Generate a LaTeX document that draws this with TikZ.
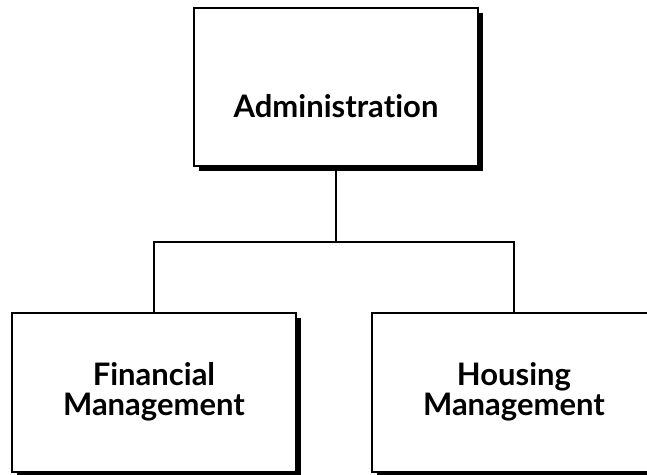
\documentclass[tikz,border=0pt]{standalone}
\usepackage{fontspec}
\setmainfont[Ligatures={NoCommon,NoRequired,NoContextual}]{Lato}
\usetikzlibrary{shadows}
\begin{document}
\begin{tikzpicture}[x=1pt,y=-1pt,
  orgbox/.style={draw=black, line width=1.3pt, fill=white, minimum width=284pt, minimum height=158pt, inner sep=0pt,
    drop shadow={shadow xshift=5pt, shadow yshift=-5pt, fill=black, opacity=1}},
  lbl/.style={font=\fontsize{31}{30}\selectfont\bfseries, align=center, inner sep=0pt},
  conn/.style={draw=black, line width=1.1pt}]
\useasboundingbox (0,0) rectangle (647,474);
\node[orgbox] (top) at (336,87) {};
\node[orgbox, minimum height=159pt] (fin) at (154,392.5) {};
\node[orgbox, minimum height=159pt] (hous) at (514,392.5) {};
\node[lbl, anchor=base] (toplbl) at (336,117) {Administration};
\node[lbl, anchor=base] (finlbl) at (154,415) {Financial\\Management};
\node[lbl, anchor=base] (houslbl) at (514,415) {Housing\\Management};
\coordinate (j) at (336,242);
\draw[conn] (top.south) -- (j);
\draw[conn] (fin.north) |- (j) -| (hous.north);
\end{tikzpicture}
\end{document}
